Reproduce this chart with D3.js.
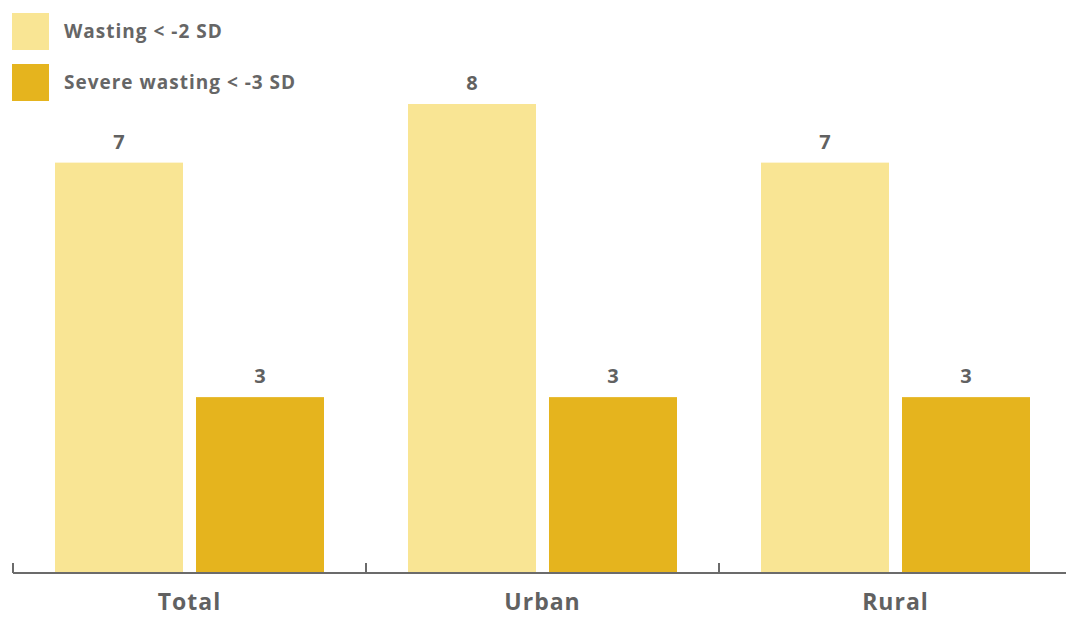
<!DOCTYPE html>
<html><head><meta charset="utf-8">
<script src="https://cdn.jsdelivr.net/npm/d3@7"></script>
<style>
html,body{margin:0;padding:0;background:#fff;}
svg{display:block;font-family:"Comic Sans MS","Open Sans","Noto Sans",sans-serif;}
</style></head>
<body><svg id="c" width="1066" height="618"></svg>
<script>
const categories = ["Total", "Urban", "Rural"];
const seriesNames = ["Wasting < -2 SD", "Severe wasting < -3 SD"];
const wasting = [7, 8, 7];
const severeWasting = [3, 3, 3];
const seriesColors = ["#F9E594", "#E5B41E"];

const data = categories.map((c, i) => ({cat: c, vals: [wasting[i], severeWasting[i]]}));

const svg = d3.select("#c");
const baseY = 573;
const x = d3.scaleBand().domain(categories).range([13, 1072]).paddingInner(0).paddingOuter(0);
const y = d3.scaleLinear().domain([0, 8]).range([baseY, 104]);

const barW = 128, gap = 13, off = 42;
const xs = i => off + i * (barW + gap);

const g = svg.append("g");
data.forEach(d => {
  d.vals.forEach((v, i) => {
    const bx = x(d.cat) + xs(i);
    g.append("rect").attr("x", bx).attr("y", y(v)).attr("width", barW)
      .attr("height", baseY - y(v)).attr("fill", seriesColors[i]);
    g.append("text").attr("x", bx + barW / 2).attr("y", y(v) - 14)
      .attr("text-anchor", "middle").attr("font-size", 20).attr("font-weight", "bold")
      .attr("fill", "#616161").text(v);
  });
});

// axis
const axis = svg.append("g").attr("transform", `translate(0,${baseY})`);
axis.append("line").attr("x1", 13).attr("x2", 1066).attr("y1", 0).attr("y2", 0)
  .attr("stroke", "#6b6b6b").attr("stroke-width", 2);
categories.forEach(c => {
  axis.append("line").attr("x1", x(c)).attr("x2", x(c)).attr("y1", 0).attr("y2", -10)
    .attr("stroke", "#6b6b6b").attr("stroke-width", 2);
  axis.append("text").attr("x", x(c) + x.bandwidth() / 2).attr("y", 37)
    .attr("text-anchor", "middle").attr("font-size", 23).attr("font-weight", "bold")
    .attr("letter-spacing", 1).attr("fill", "#616161").text(c);
});

// legend
const leg = svg.append("g");
seriesNames.forEach((s, i) => {
  leg.append("rect").attr("x", 12).attr("y", 13 + i * 51).attr("width", 37).attr("height", 37)
    .attr("fill", seriesColors[i]);
  leg.append("text").attr("x", 64).attr("y", 38 + i * 51).attr("font-size", 19)
    .attr("font-weight", "bold").attr("letter-spacing", 1).attr("fill", "#666").text(s);
});
</script></body></html>
